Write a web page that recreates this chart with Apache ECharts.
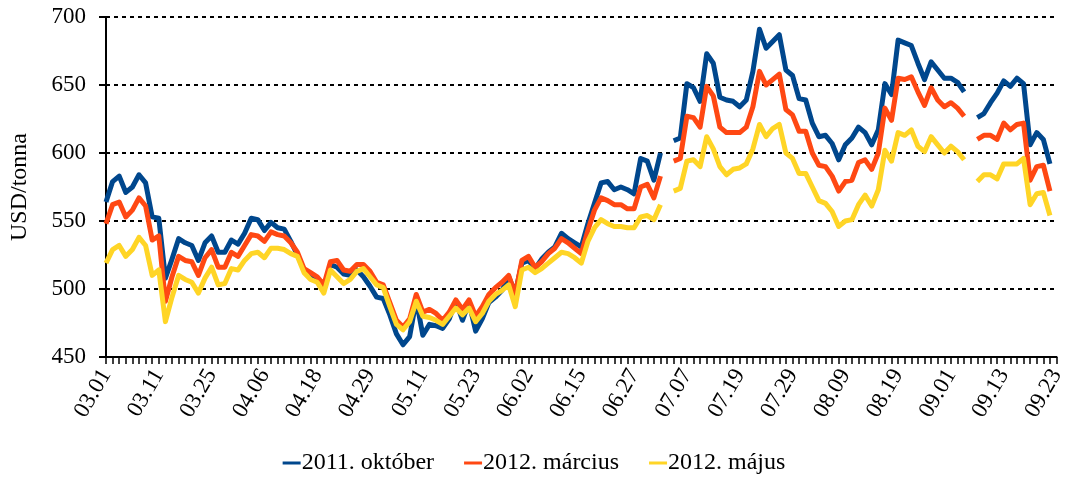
<!DOCTYPE html>
<html>
<head>
<meta charset="utf-8">
<script src="https://cdn.jsdelivr.net/npm/echarts@6/dist/echarts.min.js"></script>
<style>
  html, body { margin: 0; padding: 0; background: #fff; }
  #chart { width: 1068px; height: 481px; }
</style>
</head>
<body>
<div id="chart"></div>
<script>
// dates (trading days)
const dates = [
  '03.01', '03.02', '03.03', '03.04', '03.07', '03.08', '03.09', '03.10', '03.11', '03.14',
  '03.15', '03.16', '03.18', '03.21', '03.22', '03.24', '03.25', '03.28', '03.29', '03.30',
  '03.31', '04.01', '04.04', '04.05', '04.06', '04.07', '04.08', '04.11', '04.12', '04.13',
  '04.14', '04.15', '04.18', '04.19', '04.20', '04.21', '04.25', '04.26', '04.27', '04.28',
  '04.29', '05.02', '05.03', '05.04', '05.05', '05.06', '05.09', '05.10', '05.11', '05.12',
  '05.13', '05.16', '05.17', '05.18', '05.19', '05.20', '05.23', '05.24', '05.25', '05.26',
  '05.27', '05.30', '05.31', '06.01', '06.02', '06.03', '06.06', '06.07', '06.08', '06.09',
  '06.13', '06.14', '06.15', '06.16', '06.17', '06.20', '06.21', '06.22', '06.23', '06.24',
  '06.27', '06.28', '06.29', '06.30', '07.01', '07.04', '07.05', '07.06', '07.07', '07.08',
  '07.11', '07.12', '07.13', '07.14', '07.15', '07.18', '07.19', '07.20', '07.21', '07.22',
  '07.25', '07.26', '07.27', '07.28', '07.29', '08.01', '08.02', '08.03', '08.04', '08.05',
  '08.07', '08.08', '08.09', '08.10', '08.11', '08.12', '08.15', '08.16', '08.17', '08.18',
  '08.19', '08.22', '08.23', '08.24', '08.25', '08.26', '08.30', '08.31', '09.01', '09.02',
  '09.05', '09.06', '09.07', '09.08', '09.09', '09.12', '09.13', '09.14', '09.15', '09.16',
  '09.19', '09.20', '09.21', '09.22', '09.23'
]

const seriesNames = ['2011. október', '2012. március', '2012. május']

const okt2011 = [
  564, 579, 583, 571, 575, 584, 578, 553, 552, 508,
  522, 537, 534, 532, 521, 534, 539, 527, 527, 536,
  533, 541, 552, 551, 543, 549, 545, 544, 535, 525,
  514, 509, 507, 501, 518, 516, 511, 510, 514, 509,
  502, 494, 493, 481, 467, 459, 465, 492, 466, 474,
  473, 471, 478, 491, 477, 490, 469, 478, 490, 494,
  499, 509, 497, 519, 521, 515, 522, 527, 531, 541,
  537, 534, 531, 548, 563, 578, 579, 573, 575, 573,
  570, 596, 594, 580, 600, null, 609, 611, 651, 648,
  638, 673, 666, 641, 639, 638, 634, 639, 660, 691,
  677, 682, 687, 661, 657, 640, 639, 622, 612, 613,
  607, 595, 606, 611, 619, 615, 606, 617, 651, 643,
  683, 681, 679, 666, 654, 667, 661, 655, 655, 652,
  645, null, 626, 629, 637, 644, 653, 649, 655, 651,
  606, 615, 610, 592, null
]

const mar2012 = [
  548, 562, 564, 553, 558, 567, 561, 536, 539, 491,
  509, 524, 521, 520, 510, 523, 529, 516, 516, 527,
  524, 532, 540, 539, 535, 542, 540, 539, 534, 527,
  515, 512, 509, 503, 520, 521, 514, 513, 518, 518,
  513, 505, 503, 490, 477, 472, 478, 496, 483, 485,
  482, 477, 483, 492, 485, 492, 480, 487, 496, 501,
  505, 510, 496, 521, 524, 516, 520, 526, 530, 537,
  534, 530, 526, 543, 558, 567, 565, 562, 562, 559,
  559, 575, 577, 567, 583, null, 594, 596, 627, 626,
  619, 649, 642, 619, 615, 615, 615, 619, 634, 660,
  650, 654, 658, 632, 628, 616, 616, 600, 591, 590,
  583, 572, 579, 580, 593, 595, 588, 600, 633, 624,
  655, 654, 656, 645, 635, 648, 639, 634, 637, 633,
  627, null, 610, 613, 613, 610, 622, 617, 621, 622,
  580, 590, 591, 572, null
]

const maj2012 = [
  519, 529, 532, 524, 529, 538, 532, 510, 514, 476,
  494, 510, 507, 505, 497, 508, 516, 503, 504, 515,
  514, 521, 526, 527, 523, 530, 530, 529, 526, 524,
  512, 507, 505, 497, 514, 509, 504, 507, 513, 515,
  509, 503, 501, 487, 474, 470, 476, 491, 480, 479,
  477, 474, 480, 486, 481, 486, 476, 482, 491, 496,
  499, 503, 487, 514, 516, 512, 515, 519, 523, 527,
  526, 523, 519, 535, 545, 551, 548, 546, 546, 545,
  545, 553, 554, 551, 562, null, 572, 574, 594, 595,
  590, 612, 603, 590, 584, 588, 589, 592, 603, 621,
  612, 618, 621, 600, 596, 585, 585, 575, 565, 563,
  557, 546, 550, 551, 562, 569, 561, 573, 602, 594,
  615, 613, 617, 605, 601, 612, 606, 600, 605, 601,
  595, null, 579, 584, 584, 581, 592, 592, 592, 596,
  562, 570, 571, 554, null
]

const colors = ['#00478D', '#FF4813', '#FFD526']

const serifFont = '"Liberation Serif", "DejaVu Serif", serif'

const setEchartOptions = (ref, options) => {
  echarts.init(ref).setOption(options)
}

const lineSeries = (name, data, color) => ({
  name: name,
  type: 'line',
  data: data,
  showSymbol: false,
  symbol: 'none',
  connectNulls: false,
  lineStyle: {
    color: color,
    width: 5,
    join: 'round'
  },
  itemStyle: { color: color }
})

setEchartOptions(document.getElementById('chart'), {
  animation: false,
  color: colors,
  grid: {
    left: 102,
    right: 11,
    top: 17,
    bottom: 124
  },
  legend: {
    data: seriesNames,
    bottom: 1,
    left: 'center',
    icon: 'rect',
    itemWidth: 18,
    itemHeight: 3,
    itemGap: 30,
    textStyle: {
      fontFamily: serifFont,
      fontSize: 24,
      color: '#000',
      padding: [0, 0, 0, -4]
    }
  },
  xAxis: {
    type: 'category',
    boundaryGap: false,
    data: dates,
    axisLine: {
      show: true,
      lineStyle: { color: '#000', width: 2 }
    },
    axisTick: {
      show: true,
      interval: 0,
      length: 7,
      lineStyle: { color: '#000', width: 1.5 }
    },
    axisLabel: {
      interval: 7,
      rotate: 60,
      margin: 14,
      fontFamily: serifFont,
      fontSize: 23,
      color: '#000'
    },
    splitLine: { show: false }
  },
  yAxis: {
    type: 'value',
    min: 450,
    max: 700,
    interval: 50,
    name: 'USD/tonna',
    nameLocation: 'middle',
    nameGap: 74,
    nameTextStyle: {
      fontFamily: serifFont,
      fontSize: 24,
      color: '#000'
    },
    axisLine: {
      show: true,
      lineStyle: { color: '#000', width: 2 }
    },
    axisTick: {
      show: true,
      length: 7,
      lineStyle: { color: '#000', width: 2 }
    },
    axisLabel: {
      margin: 20,
      fontFamily: serifFont,
      fontSize: 23,
      color: '#000'
    },
    splitLine: {
      show: true,
      lineStyle: {
        color: '#000',
        width: 2,
        type: [4, 4]
      }
    }
  },
  series: [
    lineSeries(seriesNames[0], okt2011, colors[0]),
    lineSeries(seriesNames[1], mar2012, colors[1]),
    lineSeries(seriesNames[2], maj2012, colors[2])
  ]
})
</script>
</body>
</html>
